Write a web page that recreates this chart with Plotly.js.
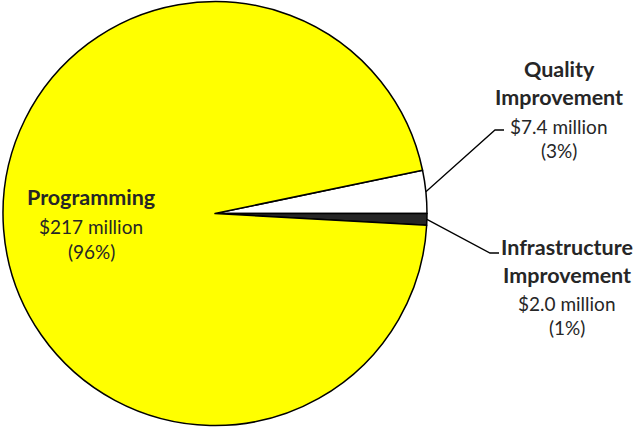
<!DOCTYPE html>
<html>
<head>
<meta charset="utf-8">
<script src="https://cdn.plot.ly/plotly-3.0.1.min.js"></script>
<style>html,body{margin:0;padding:0;background:#fff;}#chart{width:637px;height:427px;}</style>
</head>
<body>
<div id="chart"></div>
<script>
// Data
const categories = ['Quality Improvement', 'Infrastructure Improvement', 'Programming'];
const titleLines = [['Quality', 'Improvement'], ['Infrastructure', 'Improvement'], ['Programming']];
const valuesMillion = [7.4, 2.0, 217];
const valueLabels = ['$7.4 million', '$2.0 million', '$217 million'];
const percentLabels = ['(3%)', '(1%)', '(96%)'];
const sliceColors = ['#FFFFFF', '#262626', '#FFFF00'];

const W = 637, H = 427;
const total = valuesMillion.reduce((a, b) => a + b, 0);
// start so the boundary between the first two slices sits at 3 o'clock
const rotation = 90 - 360 * valuesMillion[0] / total;

// pie geometry (pixels)
const cx = 215, cy = 213.5, R = 212;
const px = x => x / W;
const py = y => 1 - y / H;

// slice mid angles (clockwise from 12 o'clock)
let acc = rotation;
const mids = valuesMillion.map(v => { const a = 360 * v / total; const m = acc + a / 2; acc += a; return m; });
const rimPoint = i => { const t = mids[i] * Math.PI / 180; return [cx + R * Math.sin(t), cy - R * Math.cos(t)]; };

const textColor = '#262626';
const fontFam = 'Lato, "Liberation Sans", sans-serif';

const annotations = [];
function addLabel(i, xc, ys) {
  const lines = titleLines[i].map(t => ['<b>' + t + '</b>', 21.5]).concat([[valueLabels[i], 19], [percentLabels[i], 19]]);
  lines.forEach((l, k) => {
    annotations.push({x: px(xc), y: py(ys[k]), xref: 'paper', yref: 'paper', text: l[0], showarrow: false,
      xanchor: 'center', yanchor: 'middle', font: {family: fontFam, size: l[1], color: textColor}});
  });
}
addLabel(0, 559, [69, 97, 126, 151]);
addLabel(1, 567, [247, 275, 303, 327]);
addLabel(2, 91, [197, 226, 251]);

// leader lines
const shapes = [];
function leader(i, elbow, end) {
  const p = rimPoint(i);
  shapes.push({type: 'path', xref: 'paper', yref: 'paper',
    path: `M ${px(p[0])} ${py(p[1])} L ${px(elbow[0])} ${py(elbow[1])} L ${px(end[0])} ${py(end[1])}`,
    line: {color: '#000', width: 1.3}});
}
leader(0, [495, 130], [504, 130]);
leader(1, [490, 253], [499, 253]);

const trace = {
  type: 'pie',
  labels: categories,
  values: valuesMillion,
  sort: false,
  direction: 'clockwise',
  rotation: rotation,
  textinfo: 'none',
  hoverinfo: 'label+value+percent',
  marker: {colors: sliceColors, line: {color: '#000', width: 1.5}},
  domain: {x: [px(cx - R), px(cx + R)], y: [0, 1]},
  showlegend: false
};

Plotly.newPlot('chart', [trace], {
  width: W, height: H,
  margin: {l: 0, r: 0, t: 0, b: 0},
  paper_bgcolor: '#fff',
  showlegend: false,
  annotations: annotations,
  shapes: shapes
}, {displayModeBar: false, staticPlot: true});
</script>
</body>
</html>
